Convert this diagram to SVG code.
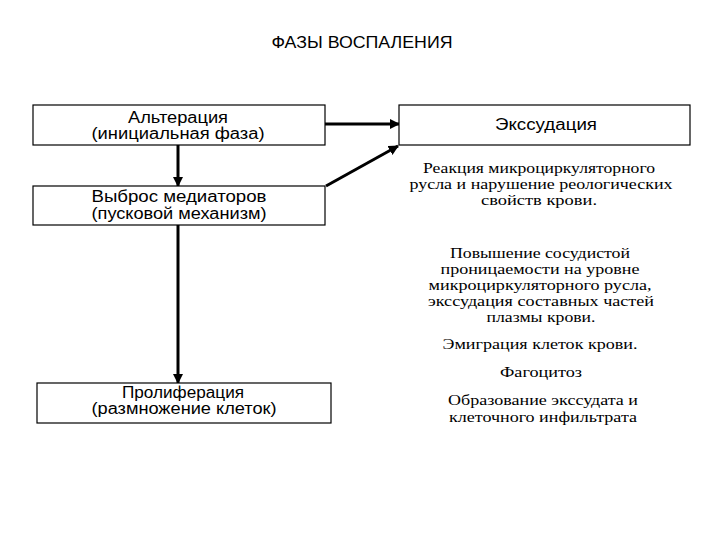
<svg xmlns="http://www.w3.org/2000/svg" width="720" height="540" viewBox="0 0 720 540">
<style>
.box{fill:#fff;stroke:#000;stroke-width:1.2}
.sans{font-family:"Liberation Sans",Arial,sans-serif;font-size:16px;fill:#000;text-anchor:middle}
.serif{font-family:"Liberation Serif","Times New Roman",serif;font-size:14.5px;fill:#000;text-anchor:middle}
.conn{stroke:#000;stroke-width:3;fill:none;marker-end:url(#ah)}
</style>
<defs>
<marker id="ah" viewBox="0 0 10 10" refX="9" refY="5" markerWidth="3.4" markerHeight="3.4" orient="auto" markerUnits="strokeWidth">
<path d="M0,0 L10,5 L0,10 z" fill="#000"/>
</marker>
</defs>
<rect width="720" height="540" fill="#fff"/>
<text class="sans" x="362" y="48" textLength="181" lengthAdjust="spacingAndGlyphs">ФАЗЫ ВОСПАЛЕНИЯ</text>
<g id="connectors">
<line class="conn" x1="178" y1="145" x2="178" y2="186"/>
<line class="conn" x1="178" y1="225" x2="178" y2="383"/>
<line class="conn" x1="325" y1="124" x2="399" y2="124"/>
<line class="conn" x1="326" y1="186" x2="398" y2="146"/>
</g>
<g id="alteration">
<rect class="box" x="33" y="105" width="292" height="40"/>
<text class="sans" x="178" y="123" textLength="100" lengthAdjust="spacingAndGlyphs">Альтерация</text>
<text class="sans" x="178" y="139" textLength="173" lengthAdjust="spacingAndGlyphs">(инициальная фаза)</text>
</g>
<g id="mediators">
<rect class="box" x="33" y="186" width="292" height="39"/>
<text class="sans" x="179" y="202" textLength="175" lengthAdjust="spacingAndGlyphs">Выброс медиаторов</text>
<text class="sans" x="179" y="218.5" textLength="175" lengthAdjust="spacingAndGlyphs">(пусковой механизм)</text>
</g>
<g id="proliferation">
<rect class="box" x="37" y="383" width="294" height="40"/>
<text class="sans" x="183" y="398" textLength="122" lengthAdjust="spacingAndGlyphs">Пролиферация</text>
<text class="sans" x="184" y="414" textLength="185" lengthAdjust="spacingAndGlyphs">(размножение клеток)</text>
</g>
<g id="exudation">
<rect class="box" x="399" y="105" width="291" height="40"/>
<text class="sans" x="546" y="130" textLength="102" lengthAdjust="spacingAndGlyphs">Экссудация</text>
</g>
<g id="exudation-notes">
<text class="serif" x="539" y="173" textLength="232" lengthAdjust="spacingAndGlyphs">Реакция микроциркуляторного</text>
<text class="serif" x="541" y="189" textLength="263" lengthAdjust="spacingAndGlyphs">русла и нарушение реологических</text>
<text class="serif" x="539" y="205" textLength="116" lengthAdjust="spacingAndGlyphs">свойств крови.</text>
<text class="serif" x="540" y="258" textLength="180" lengthAdjust="spacingAndGlyphs">Повышение сосудистой</text>
<text class="serif" x="540" y="274" textLength="199" lengthAdjust="spacingAndGlyphs">проницаемости на уровне</text>
<text class="serif" x="540" y="290" textLength="223" lengthAdjust="spacingAndGlyphs">микроциркуляторного русла,</text>
<text class="serif" x="541" y="306" textLength="226" lengthAdjust="spacingAndGlyphs">экссудация составных частей</text>
<text class="serif" x="541" y="322" textLength="109" lengthAdjust="spacingAndGlyphs">плазмы крови.</text>
<text class="serif" x="540" y="349" textLength="195" lengthAdjust="spacingAndGlyphs">Эмиграция клеток крови.</text>
<text class="serif" x="541" y="377" textLength="82" lengthAdjust="spacingAndGlyphs">Фагоцитоз</text>
<text class="serif" x="543" y="405" textLength="190" lengthAdjust="spacingAndGlyphs">Образование экссудата и</text>
<text class="serif" x="543" y="422" textLength="188" lengthAdjust="spacingAndGlyphs">клеточного инфильтрата</text>
</g>
</svg>
